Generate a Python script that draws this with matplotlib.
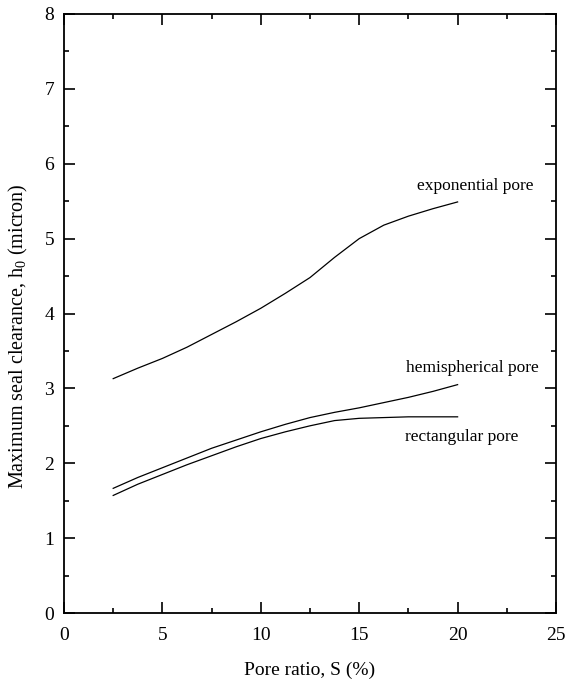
import matplotlib
matplotlib.use("Agg")
import matplotlib.pyplot as plt
from matplotlib.ticker import MultipleLocator

plt.rcParams['font.family'] = ['Liberation Serif', 'DejaVu Serif']
plt.rcParams['mathtext.fontset'] = 'custom'
plt.rcParams['mathtext.rm'] = 'Liberation Serif'

pore_ratio = [2.5, 3.75, 5, 6.25, 7.5, 8.75, 10, 11.25, 12.5, 13.75, 15, 16.25, 17.5, 18.75, 20]
exponential = [3.13, 3.27, 3.40, 3.55, 3.72, 3.89, 4.07, 4.27, 4.48, 4.75, 5.00, 5.18, 5.30, 5.40, 5.49]
hemispherical = [1.665, 1.81, 1.94, 2.07, 2.20, 2.31, 2.42, 2.52, 2.61, 2.68, 2.74, 2.81, 2.88, 2.96, 3.05]
rectangular = [1.57, 1.72, 1.85, 1.98, 2.10, 2.22, 2.33, 2.42, 2.50, 2.57, 2.60, 2.61, 2.62, 2.62, 2.62]

labels = ["exponential pore", "hemispherical pore", "rectangular pore"]
label_pos = [(20.9, 5.70), (20.76, 3.27), (20.2, 2.355)]

W, H = 573, 682
fig = plt.figure(figsize=(W / 100, H / 100), dpi=100)
ax = fig.add_axes([64 / W, 1 - 613 / H, (556 - 64) / W, (613 - 14) / H])

for series in (exponential, hemispherical, rectangular):
    ax.plot(pore_ratio, series, color='black', lw=0.9)

for text, (tx, ty) in zip(labels, label_pos):
    ax.text(tx, ty, text, ha='center', va='center', fontsize=12.5)

ax.set_xlim(0, 25)
ax.set_ylim(0, 8)
ax.xaxis.set_major_locator(MultipleLocator(5))
ax.xaxis.set_minor_locator(MultipleLocator(2.5))
ax.yaxis.set_major_locator(MultipleLocator(1))
ax.yaxis.set_minor_locator(MultipleLocator(0.5))
ax.tick_params(which='both', direction='in', top=True, right=True, width=1.2, labelsize=14)
ax.tick_params(which='major', length=8)
ax.tick_params(which='minor', length=3.8)
ax.tick_params(axis='x', pad=10)
ax.tick_params(axis='y', pad=7)
for s in ax.spines.values():
    s.set_linewidth(1.3)

ax.set_xlabel("Pore ratio, S (%)", fontsize=14, labelpad=13)
ax.set_ylabel("Maximum seal clearance, h$_\\mathregular{0}$ (micron)", fontsize=14.5,
              va='center')
ax.yaxis.set_label_coords(-0.093, 0.462)

fig.savefig("out.png", dpi=100)
